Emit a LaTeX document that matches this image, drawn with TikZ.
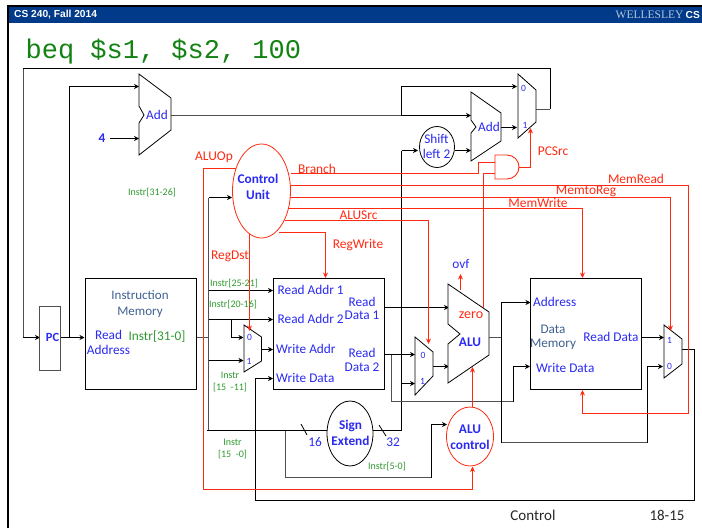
\documentclass[tikz,border=0pt]{standalone}
\usepackage{fontspec}
\setmainfont{Carlito}
\newfontfamily\hdfont{Liberation Sans}
\newfontfamily\serfont{Liberation Serif}
\newfontfamily\titlefont{Liberation Mono}
\usetikzlibrary{arrows.meta,shapes.geometric,calc}
\definecolor{hdblue}{HTML}{003A88}
\definecolor{lblue}{HTML}{2A2AF0}
\definecolor{dblue}{HTML}{3F6090}
\definecolor{lgreen}{HTML}{2E9A2E}
\definecolor{tgreen}{HTML}{128212}
\definecolor{lred}{HTML}{FF2A12}
\definecolor{gwire}{HTML}{505050}
\tikzset{
  wire/.style={line width=0.8pt,draw=black},
  gw/.style={line width=0.9pt,draw=gwire},
  arr/.style={line width=1pt,draw=black,-{Stealth[length=5pt,width=5pt]}},
  rw/.style={line width=1pt,draw=lred},
  rarr/.style={line width=1pt,draw=lred,-{Stealth[length=5.5pt,width=5pt]}},
  block/.style={draw=black,line width=0.9pt,inner sep=0,outer sep=0,rectangle},
  circ/.style={draw=black,line width=0.8pt,ellipse,inner sep=0,outer sep=0,fill=white},
  redcirc/.style={draw=lred,line width=0.8pt,ellipse,inner sep=0,outer sep=0,fill=white},
  poly/.style={draw=black,line width=0.8pt,fill=white,line join=miter},
  bl/.style={text=lblue,inner sep=0,font=\fontsize{13.3}{14}\selectfont,align=center},
  blb/.style={text=lblue,inner sep=0,font=\fontsize{13.3}{16}\selectfont\bfseries,align=center},
  blsm/.style={text=lblue,inner sep=0,font=\fontsize{9.5}{10}\selectfont},
  db/.style={text=dblue,inner sep=0,font=\fontsize{13}{16}\selectfont,align=center},
  gr/.style={text=lgreen,inner sep=0,font=\fontsize{10}{12}\selectfont,align=center},
  rd/.style={text=lred,inner sep=0,font=\fontsize{13.4}{14}\selectfont},
}
\begin{document}
\begin{tikzpicture}[x=1pt,y=-1pt]
\useasboundingbox (0,0) rectangle (702,528);
% slide frame
\fill[hdblue] (7,6) rectangle (702,23);
\draw[black,line width=2pt] (8,528) -- (8,6) -- (702,6);
\node[anchor=west,text=white,inner sep=0,font=\hdfont\fontsize{10.2}{12}\bfseries\selectfont] (hl) at (14,14.5) {CS 240, Fall 2014};
\node[anchor=east,inner sep=0,text=white] (hr) at (700,14.5) {{\serfont\fontsize{11.5}{12}\selectfont\color{white!70!hdblue}WELLESLEY} {\hdfont\fontsize{10.2}{12}\bfseries\selectfont CS}};
\node[anchor=west,text=tgreen,inner sep=0,font=\titlefont\fontsize{27}{30}\selectfont] (title) at (25.5,52) {beq \$s1, \$s2, 100};

% junction and port coordinates
\coordinate (pcin) at (40,337.5);
\coordinate (tl) at (23,68.5);
\coordinate (bl) at (23,337.5);
\coordinate (tr) at (550,68.5);
\coordinate (mr) at (550,109);
\coordinate (m0o) at (536,109);
\coordinate (pcj) at (69.5,337.5);
\coordinate (pct) at (69.5,86.5);
\coordinate (a1a) at (139,86.5);
\coordinate (a1b) at (139,138.5);
\coordinate (f4) at (110,138.5);
\coordinate (a1o) at (171,115.5);
\coordinate (j401) at (401.5,115.5);
\coordinate (j401t) at (401.5,86.5);
\coordinate (m0a) at (517,86.5);
\coordinate (m0b) at (517,127.5);
\coordinate (a2a) at (471,115.5);
\coordinate (a2b) at (471,150.5);
\coordinate (a2o) at (501,127.5);
\coordinate (imo) at (196,337.5);
\coordinate (ij) at (208.5,337.5);
\coordinate (it) at (208.5,197.5);
\coordinate (ctin) at (232,197.5);
\coordinate (ib) at (208.5,430.5);
\coordinate (ibl) at (207,430.5);
\coordinate (sgin) at (327,430.5);
\coordinate (ra1l) at (208.5,290.5);
\coordinate (ra1r) at (273,290.5);
\coordinate (ra2l) at (208.5,319.5);
\coordinate (ra2r) at (273,319.5);
\coordinate (wm1l) at (208.5,360.5);
\coordinate (m1a) at (243.5,337.5);
\coordinate (m1b) at (243.5,360.5);
\coordinate (j231) at (231.5,319.5);
\coordinate (j231b) at (231.5,337.5);
\coordinate (m1o) at (261.5,349.5);
\coordinate (wa) at (273,349.5);
\coordinate (wd) at (273,378.5);
\coordinate (j285) at (285.5,430.5);
\coordinate (j285b) at (285.5,477.5);
\coordinate (j431b) at (431.5,477.5);
\coordinate (j431t) at (431.5,424.5);
\coordinate (alcin) at (447,424.5);
\coordinate (j401s) at (401.5,150.5);
\coordinate (j401b) at (401.5,430.5);
\coordinate (seo) at (373,430.5);
\coordinate (sin) at (418,150.5);
\coordinate (sout) at (455,150.5);
\coordinate (rd1) at (384,307.5);
\coordinate (alua) at (449,307.5);
\coordinate (rd2) at (384,354.5);
\coordinate (m2a) at (415,354.5);
\coordinate (m2bl) at (401.5,383.5);
\coordinate (m2b) at (415,383.5);
\coordinate (m2o) at (433,366.5);
\coordinate (alub) at (449,366.5);
\coordinate (j391) at (391.5,354.5);
\coordinate (j391b) at (391.5,401.5);
\coordinate (j513b) at (513.5,401.5);
\coordinate (j513t) at (513.5,366.5);
\coordinate (dwd) at (530,366.5);
\coordinate (aluo) at (489,337.5);
\coordinate (j501) at (501.5,337.5);
\coordinate (j501t) at (501.5,302.5);
\coordinate (j501b) at (501.5,442.5);
\coordinate (daddr) at (530.5,302.5);
\coordinate (j647b) at (647.5,442.5);
\coordinate (j647t) at (647.5,366.5);
\coordinate (m3b) at (663,366.5);
\coordinate (drd) at (641,337.5);
\coordinate (m3a) at (664,337.5);
\coordinate (m3o) at (682,349.5);
\coordinate (j694) at (694.5,349.5);
\coordinate (j694b) at (694.5,500.5);
\coordinate (j256b) at (255.7,500.5);
\coordinate (j256t) at (255.7,378.5);
\coordinate (pco) at (61,337.5);
\coordinate (imi) at (84.5,337.5);
% control coordinates
\coordinate (cop) at (236,168.5);
\coordinate (copl) at (203.5,168.5);
\coordinate (copb) at (203.5,489.5);
\coordinate (copr) at (472.5,489.5);
\coordinate (alcb) at (472.5,466.5);
\coordinate (cbr) at (291,173.5);
\coordinate (cbr1) at (478.5,173.5);
\coordinate (cbr2) at (478.5,162.5);
\coordinate (anda) at (495,162.5);
\coordinate (andb) at (495,173.5);
\coordinate (andbl) at (483.5,173.5);
\coordinate (zero) at (483.5,308);
\coordinate (ando) at (519,167.5);
\coordinate (andr) at (530.5,167.5);
\coordinate (m0s) at (530.5,128);
\coordinate (cmr) at (290,185.5);
\coordinate (cmr1) at (688.5,185.5);
\coordinate (cmr2) at (688.5,413.5);
\coordinate (cmr3) at (582.5,413.5);
\coordinate (dmb) at (582.5,390);
\coordinate (cmt) at (289,197.5);
\coordinate (cmt1) at (670.5,197.5);
\coordinate (m3s) at (670.5,331);
\coordinate (cmw) at (288,208.5);
\coordinate (cmw1) at (582.5,208.5);
\coordinate (dmt) at (582.5,278);
\coordinate (cas) at (285,220.5);
\coordinate (cas1) at (428.5,220.5);
\coordinate (m2s) at (428.5,344);
\coordinate (crw) at (279,232.5);
\coordinate (crw1) at (325.5,232.5);
\coordinate (rft) at (325.5,278);
\coordinate (crd) at (249.5,232);
\coordinate (m1s) at (249.5,331);
\coordinate (ovfb) at (460.5,290);
\coordinate (ovft) at (460.5,274);
\coordinate (alct) at (472.5,407);
\coordinate (alubm) at (472.5,367);

% black wires
\draw[gw] (m0o) -- (mr);
\draw[wire] (mr) -- (tr) -- (tl);
\draw[gw] (tl) -- (bl);
\draw[arr] (bl) -- (pcin);
\draw[arr] (pcj) -- (pct) -- (a1a);
\draw[arr] (pco) -- (imi);
\draw[arr] (f4) -- (a1b);
\draw[gw] (a1o) -- (j401);
\draw[arr] (j401) -- (j401t) -- (m0a);
\draw[arr] (j401) -- (a2a);
\draw[arr] (a2o) -- (m0b);
\draw[gw] (imo) -- (ij);
\draw[gw] (ij) -- (it);
\draw[arr] (it) -- (ctin);
\draw[gw] (ij) -- (ib);
\draw[wire] (ibl) -- (sgin);
\draw[arr] (ra1l) -- (ra1r);
\draw[arr] (ra2l) -- (ra2r);
\draw[arr] (j231) -- (j231b) -- (m1a);
\draw[arr] (wm1l) -- (m1b);
\draw[arr] (m1o) -- (wa);
\draw[gw] (j285) -- (j285b) -- (j431b);
\draw[arr] (j431b) -- (j431t) -- (alcin);
\draw[wire] (j401s) -- (j401b);
\draw[wire] (seo) -- (j401b);
\draw[arr] (j401s) -- (sin);
\draw[arr] (sout) -- (a2b);
\draw[arr] (rd1) -- (alua);
\draw[arr] (rd2) -- (m2a);
\draw[arr] (m2bl) -- (m2b);
\draw[arr] (m2o) -- (alub);
\draw[gw] (j391) -- (j391b) -- (j513b);
\draw[arr] (j513b) -- (j513t) -- (dwd);
\draw[gw] (aluo) -- (j501);
\draw[arr] (j501b) -- (j501t) -- (daddr);
\draw[gw] (j501b) -- (j647b);
\draw[arr] (j647b) -- (j647t) -- (m3b);
\draw[arr] (drd) -- (m3a);
\draw[wire] (m3o) -- (j694) -- (j694b) -- (j256b);
\draw[arr] (j256b) -- (j256t) -- (wd);
\draw[wire] (301,424) -- (307,435);
\draw[wire] (379,425) -- (386,436);

% adders, muxes, ALU
\draw[poly] (139,74) -- (171,98) -- (171,130) -- (139,155) -- (139,123) -- (144,115) -- (139,106) -- cycle;
\draw[poly] (471,92) -- (501,113) -- (501,141) -- (471,161) -- (471,133) -- (476,127) -- (471,120) -- cycle;
\draw[poly] (518,74) -- (536,90) -- (536,122) -- (518,138) -- cycle;
\draw[poly] (244,325) -- (261.5,337) -- (261.5,361) -- (244,372) -- cycle;
\draw[poly] (415,337) -- (433,352) -- (433,376) -- (415,395) -- cycle;
\draw[poly] (664,325) -- (682,339) -- (682,364) -- (664,378) -- cycle;
\draw[poly] (448,284) -- (489,312) -- (489,355) -- (448,383) -- (448,344) -- (460,334) -- (448,324) -- cycle;

% red wires
\draw[rw] (cop) -- (copl) -- (copb) -- (copr);
\draw[rarr] (copr) -- (alcb);
\draw[rw] (cbr) -- (cbr1) -- (cbr2) -- (anda);
\draw[rw] (zero) -- (andbl) -- (andb);
\draw[rarr] (ando) -- (andr) -- (m0s);
\draw[rw] (cmr) -- (cmr1) -- (cmr2) -- (cmr3);
\draw[rarr] (cmr3) -- (dmb);
\draw[rw] (cmt) -- (cmt1);
\draw[rarr] (cmt1) -- (m3s);
\draw[rw] (cmw) -- (cmw1);
\draw[rarr] (cmw1) -- (dmt);
\draw[rw] (cas) -- (cas1);
\draw[rarr] (cas1) -- (m2s);
\draw[rw] (crw) -- (crw1);
\draw[rarr] (crw1) -- (rft);
\draw[rarr] (crd) -- (m1s);
\draw[rarr] (ovfb) -- (ovft);
\draw[rarr] (alct) -- (alubm);

% AND gate
\draw[draw=lred,line width=0.9pt,fill=white] (495,155) -- (507,155) arc (-90:90:12) -- (495,179) -- cycle;

% blocks
\node[block,minimum width=21.5pt,minimum height=64pt,draw=gwire] (pc) at (50,338) {};
\node[block,minimum width=111pt,minimum height=111pt] (imem) at (140.5,333.5) {};
\node[block,minimum width=111pt,minimum height=111pt] (regs) at (328.5,333.5) {};
\node[block,minimum width=111pt,minimum height=111pt] (dmem) at (585.5,333.5) {};
\node[redcirc,minimum width=58pt,minimum height=94pt] (ctrl) at (261.5,191) {};
\node[circ,minimum width=35pt,minimum height=41pt] (shift) at (437,147) {};
\node[circ,minimum width=46pt,minimum height=65pt] (sign) at (350,433.5) {};
\node[redcirc,minimum width=47pt,minimum height=59pt] (aluctl) at (470,436.5) {};

% labels
\node[bl] (ladd1) at (157,115) {Add};
\node[blb] (lfour) at (102,138) {4};
\node[bl] (ladd2) at (489,127) {Add};
\node[blsm] (m00) at (523.5,88.5) {0};
\node[blsm] (m01) at (525,125) {1};
\node[bl,font=\fontsize{13.3}{15}\selectfont] (lsh) at (436.5,146.5) {Shift\\left 2};
\node[blb] (lctrl) at (258,187) {Control\\Unit};
\node[blb,font=\fontsize{12.5}{14}\selectfont\bfseries] (lpc) at (52.5,337) {PC};
\node[db] (lim) at (140,304) {Instruction\\Memory};
\node[bl,font=\fontsize{13.3}{15}\selectfont] (lra) at (108.5,342.5) {Read\\Address};
\node[text=lgreen,inner sep=0,font=\fontsize{13.3}{14}\selectfont] (li31) at (157,337) {Instr[31-0]};
\node[bl,anchor=west] (r1) at (277.5,290) {Read Addr 1};
\node[bl,anchor=west] (r2) at (277.5,319) {Read Addr 2};
\node[bl,anchor=west] (r3) at (276,349) {Write Addr};
\node[bl,anchor=west] (r4) at (276,378) {Write Data};
\node[bl,font=\fontsize{13.3}{13.5}\selectfont] (rd1l) at (362,308.5) {Read\\Data 1};
\node[bl,font=\fontsize{13.3}{13.5}\selectfont] (rd2l) at (362,360) {Read\\Data 2};
\node[blsm] (m10) at (249.5,337) {0};
\node[blsm] (m11) at (249,361) {1};
\node[blsm] (m20) at (423,355) {0};
\node[blsm] (m21) at (422.5,381) {1};
\node[blsm] (m30) at (669.5,366) {0};
\node[blsm] (m31) at (669.5,340) {1};
\node[bl] (lovf) at (461,264) {ovf};
\node[text=lred,inner sep=0,font=\fontsize{14}{15}\selectfont] (lzero) at (471,315) {zero};
\node[blb] (lalu) at (470,342) {ALU};
\node[blb] (lsign) at (350.5,433) {Sign\\Extend};
\node[blb] (lalc) at (470,437.5) {ALU\\control};
\node[bl] (l16) at (315,442) {16};
\node[bl] (l32) at (393,442) {32};
\node[bl,anchor=west] (da) at (533,302) {Address};
\node[db,font=\fontsize{13.2}{14}\selectfont] (dml) at (553,337) {Data\\Memory};
\node[bl] (drl) at (611,337) {Read Data};
\node[bl,anchor=west] (dw) at (536,368) {Write Data};
\node[gr] (g1) at (152,193) {Instr[31-26]};
\node[gr] (g2) at (234,284) {Instr[25-21]};
\node[gr] (g3) at (233,305) {Instr[20-16]};
\node[gr] (g4) at (230,382) {Instr\\{}[15 \ -11]};
\node[gr] (g5) at (232.5,449) {Instr\\{}[15 \ -0]};
\node[gr] (g6) at (387,467) {Instr[5-0]};
\node[rd] (aop) at (214,157) {ALUOp};
\node[rd] (brl) at (317,169) {Branch};
\node[rd,anchor=center] (arl) at (358.5,215) {ALUSrc};
\node[rd] (rwl) at (358,245) {RegWrite};
\node[rd] (rdl) at (230,256) {RegDst};
\node[rd] (pcl) at (553,151) {PCSrc};
\node[rd] (mrl) at (636,179) {MemRead};
\node[rd] (mtr) at (586,191) {MemtoReg};
\node[rd] (mwl) at (538,203) {MemWrite};
\node[inner sep=0,text=black!85,font=\fontsize{15}{16}\selectfont] (fc) at (533,515) {Control};
\node[inner sep=0,text=black!85,font=\fontsize{15}{16}\selectfont] (fn) at (667,515) {18-15};
\end{tikzpicture}
\end{document}
